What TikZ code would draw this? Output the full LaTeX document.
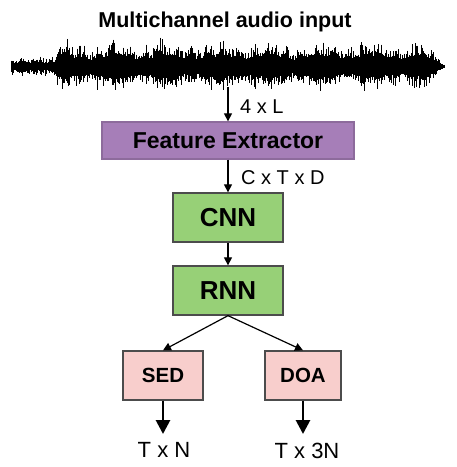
\documentclass[tikz,border=0pt]{standalone}
\usepackage{fontspec}
\setmainfont{Liberation Sans}
\usetikzlibrary{arrows.meta}
\definecolor{fecol}{RGB}{166,126,184}
\definecolor{nncol}{RGB}{151,208,119}
\definecolor{sortcol}{RGB}{248,206,204}
\tikzstyle{bloc}=[draw=black!70,line width=1.3pt,inner sep=0pt,minimum height=49pt,font=\bfseries\fontsize{20.5}{24}\selectfont]
\tikzstyle{fleche}=[draw,line width=1.2pt,-{Triangle[length=8pt,width=8pt]}]
\tikzstyle{grosse}=[draw,line width=2.8pt,-{Triangle[length=14pt,width=14pt]}]
\tikzstyle{dim}=[inner sep=0pt,anchor=base west,font=\fontsize{20}{24}\selectfont]
\tikzstyle{sortie}=[inner sep=0pt,anchor=base,font=\fontsize{22}{26}\selectfont]
\tikzstyle{signal}=[line width=1pt,black]

\begin{document}
\begin{tikzpicture}[x=1pt,y=-1pt]
    \useasboundingbox (0,0) rectangle (457,467);
    % titre
    \node[inner sep=0pt,anchor=base,font=\bfseries\fontsize{21.5}{26}\selectfont] (title) at (225,27) {Multichannel audio input};
    % signal
    \pgfmathsetseed{42}
    \foreach \i in {0,...,619}{
        \pgfmathsetmacro\xx{11+0.7*\i}
        \pgfmathsetmacro\env{\xx<56 ? 4+4*rnd : (\xx>425 ? max(1,16*(445-\xx)/20) : 15+3*sin(\xx*7)+2*sin(\xx*23))}
        \pgfmathsetmacro\up{\env*(0.6+1.0*rnd*rnd)}
        \pgfmathsetmacro\dn{\env*(0.6+0.9*rnd*rnd)}
        \draw[signal] (\xx,66-\up) -- (\xx,67+\dn);
    }
    \coordinate (wavebot) at (228,87);
    % blocs
    \node[bloc,fill=fecol,draw=fecol!85!black,minimum width=252pt,minimum height=37pt,font=\bfseries\fontsize{23}{27}\selectfont] (fe) at (228,140.5) {Feature Extractor};
    \node[bloc,fill=nncol,minimum width=110pt,font=\bfseries\fontsize{26}{30}\selectfont] (cnn) at (228,217.5) {CNN};
    \node[bloc,fill=nncol,minimum width=110pt,font=\bfseries\fontsize{26}{30}\selectfont] (rnn) at (228,290.5) {RNN};
    \node[bloc,fill=sortcol,minimum width=80pt] (sed) at (163,375.5) {SED};
    \node[bloc,fill=sortcol,minimum width=76pt] (doa) at (303,375.5) {DOA};
    % sorties
    \coordinate (sedout) at (163,434);
    \coordinate (doaout) at (303,434);
    \node[sortie] (txn) at (164,457) {T x N};
    \node[sortie] (tx3n) at (307,458) {T x 3N};
    % dimensions
    \node[dim] (dl) at (240,113) {4 x L};
    \node[dim] (dctd) at (241,184) {C x T x D};
    % fleches
    \foreach \source/ \dest in {wavebot/fe.north, fe.south/cnn.north, cnn.south/rnn.north, rnn.south/sed.north, rnn.south/doa.north}
        \path[fleche] (\source) -- (\dest);
    \foreach \source/ \dest in {sed/sedout, doa/doaout}
        \path[grosse] (\source.south) -- (\dest);
\end{tikzpicture}
\end{document}
